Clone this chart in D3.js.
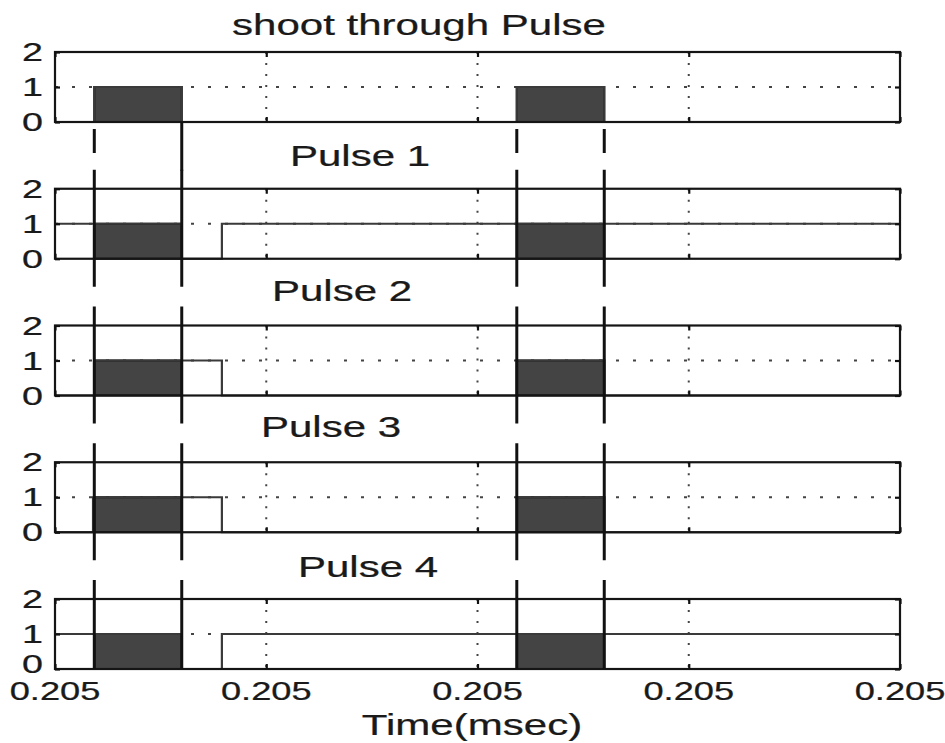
<!DOCTYPE html>
<html>
<head>
<meta charset="utf-8">
<script src="https://cdn.jsdelivr.net/npm/d3@7"></script>
<style>
  html, body { margin: 0; padding: 0; background: #fff; }
  svg { display: block; }
  text { font-family: "Liberation Sans", Arial, sans-serif; fill: #1a1a1a; stroke: #1a1a1a; stroke-width: 0.25px; }
</style>
</head>
<body>
<svg id="chart" width="945" height="743"></svg>
<script>
// Time axis (ms) and its tick labels
const timeTicks = [0.20500, 0.20501, 0.20502, 0.20503, 0.20504];
const timeTickLabels = ["0.205", "0.205", "0.205", "0.205", "0.205"];
const levelTicks = [0, 1, 2];
const levelTickLabels = ["0", "1", "2"];

// Panel titles, top to bottom
const panelTitles = ["shoot through Pulse", "Pulse 1", "Pulse 2", "Pulse 3", "Pulse 4"];
const timeAxisTitle = "Time(msec)";

// Gate signals as [time (ms), level] breakpoints, held until the next breakpoint
const shootThrough = [[0.20500, 0], [0.20500186, 1], [0.20500600, 0], [0.20502186, 1], [0.20502600, 0], [0.20504, 0]];
const pulse1 = [[0.20500, 1], [0.20500600, 0], [0.20500790, 1], [0.20504, 1]];
const pulse2 = [[0.20500, 0], [0.20500186, 1], [0.20500790, 0], [0.20502186, 1], [0.20502600, 0], [0.20504, 0]];
const pulse3 = [[0.20500, 0], [0.20500180, 1], [0.20500790, 0], [0.20502186, 1], [0.20502600, 0], [0.20504, 0]];
const pulse4 = [[0.20500, 1], [0.20500600, 0], [0.20500790, 1], [0.20504, 1]];
const panelSignals = [shootThrough, pulse1, pulse2, pulse3, pulse4];

// Shoot-through intervals [start, end] (ms), shaded in every panel
const shootIntervals = [[0.20500186, 0.20500600], [0.20502186, 0.20502600]];

// ---- layout ----
const svg = d3.select("#chart");
const left = 55, right = 900;
const panelH = 70, panelStep = 136.75, firstTop = 52;
const titleX = [419, 360, 342, 331, 368];
const titleBaseline = [35, 166, 301, 437, 577];
const textStretch = 1.45;

const x = d3.scaleLinear().domain([timeTicks[0], timeTicks[timeTicks.length - 1]]).range([left, right]);
const panelTop = i => firstTop + i * panelStep;

function stretchedText(g, px, py, str, anchor, size) {
  return g.append("text")
    .attr("transform", `translate(${px},${py}) scale(${textStretch},1)`)
    .attr("text-anchor", anchor)
    .style("font-size", size + "px")
    .text(str);
}

const yScales = panelSignals.map((_, i) =>
  d3.scaleLinear().domain([0, 2]).range([panelTop(i) + panelH, panelTop(i)]));
const lastPanel = panelSignals.length - 1;

panelSignals.forEach((sig, i) => {
  const y = yScales[i];
  const g = svg.append("g");

  // dotted grid
  g.selectAll("line.vgrid").data(timeTicks.slice(1, -1)).join("line")
    .attr("x1", d => x(d)).attr("x2", d => x(d))
    .attr("y1", y(2)).attr("y2", y(0))
    .attr("stroke", "#444").attr("stroke-width", 2)
    .attr("stroke-dasharray", "2,9");
  g.append("line")
    .attr("x1", x.range()[0]).attr("x2", x.range()[1])
    .attr("y1", y(1)).attr("y2", y(1))
    .attr("stroke", "#444").attr("stroke-width", 2)
    .attr("stroke-dasharray", "3,14");

  // shaded shoot-through intervals
  g.selectAll("rect.st").data(shootIntervals).join("rect")
    .attr("x", d => x(d[0])).attr("width", d => x(d[1]) - x(d[0]))
    .attr("y", y(1)).attr("height", y(0) - y(1))
    .attr("fill", "#444444")
    .attr("stroke", "#111").attr("stroke-width", 2);

  // signal trace
  const line = d3.line().x(d => x(d[0])).y(d => y(d[1])).curve(d3.curveStepAfter);
  g.append("path").datum(sig)
    .attr("d", line)
    .attr("fill", "none")
    .attr("stroke", "#3a3a3a").attr("stroke-width", 2.2);

  // frame
  g.append("rect")
    .attr("x", left).attr("y", y(2))
    .attr("width", right - left).attr("height", y(0) - y(2))
    .attr("fill", "none").attr("stroke", "#151515").attr("stroke-width", 2.2);

  // inward tick marks
  const bottomAxis = d3.axisBottom(x).tickValues(timeTicks).tickSize(-5).tickFormat("");
  const topAxis = d3.axisTop(x).tickValues(timeTicks).tickSize(-5).tickFormat("");
  const leftAxis = d3.axisLeft(y).tickValues(levelTicks).tickSize(-5).tickFormat("");
  const rightAxis = d3.axisRight(y).tickValues(levelTicks).tickSize(-5).tickFormat("");
  [[bottomAxis, `translate(0,${y(0)})`], [topAxis, `translate(0,${y(2)})`],
   [leftAxis, `translate(${left},0)`], [rightAxis, `translate(${right},0)`]].forEach(([ax, tr]) => {
    const a = g.append("g").attr("transform", tr).call(ax);
    a.select(".domain").remove();
    a.selectAll(".tick line").attr("stroke", "#111").attr("stroke-width", 2.2);
  });

  // level labels (the bottom panel's zero sits a little higher, clear of the time labels)
  levelTicks.forEach((v, k) => {
    const dy = (i === lastPanel && v === 0) ? 4 : 9;
    stretchedText(g, 43, y(v) + dy, levelTickLabels[k], "end", 26);
  });

  // panel title
  stretchedText(g, titleX[i], titleBaseline[i], panelTitles[i], "middle", 29);
});

// vertical markers at each shoot-through edge, running down through the lower panels
const edges = shootIntervals.flat();
edges.forEach((t, e) => {
  const segs = [];
  const b0 = yScales[0](0);
  // link below the top panel: the first falling edge is drawn solid down to the next panel
  if (e === 1) segs.push([b0, panelTop(1) - 18]);
  else segs.push([b0 + 7, b0 + 31]);
  for (let i = 1; i <= lastPanel; i++) {
    const top = panelTop(i) - 19;
    const bottom = i === lastPanel ? panelTop(i) + panelH : panelTop(i) + panelH + 28;
    segs.push([top, bottom]);
  }
  svg.append("g").selectAll("line").data(segs).join("line")
    .attr("x1", x(t)).attr("x2", x(t))
    .attr("y1", d => d[0]).attr("y2", d => d[1])
    .attr("stroke", "#111").attr("stroke-width", 3);
});

// time axis labels
const bottomY = yScales[lastPanel](0);
timeTicks.forEach((t, k) => {
  stretchedText(svg, x(t), bottomY + 31, timeTickLabels[k], "middle", 25);
});
stretchedText(svg, 472, 735, timeAxisTitle, "middle", 29);
</script>
</body>
</html>
